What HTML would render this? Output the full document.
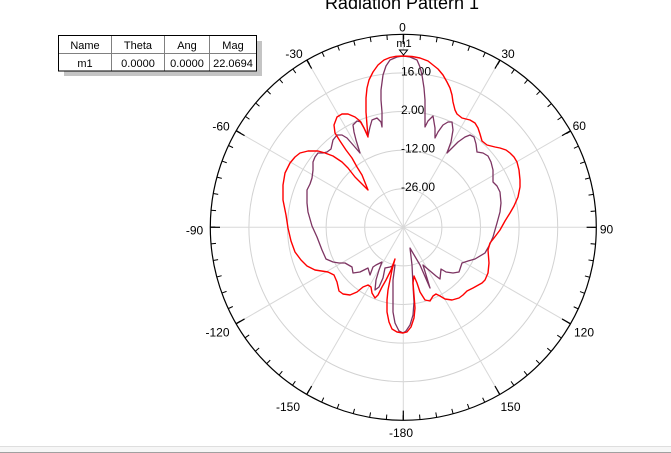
<!DOCTYPE html>
<html><head><meta charset="utf-8"><style>
html,body{margin:0;padding:0;background:#fff;}
svg{display:block;}
text{font-family:"Liberation Sans",Arial,sans-serif;}
</style></head><body>
<svg width="671" height="453" viewBox="0 0 671 453" xmlns="http://www.w3.org/2000/svg">
<rect width="671" height="453" fill="#fff"/>
<!-- title -->
<text x="402" y="9" font-size="18" text-anchor="middle" fill="#000">Radiation Pattern 1</text>

<!-- grid circles -->
<g fill="none" stroke="#d2d2d2" stroke-width="1">
<circle cx="403.3" cy="227.3" r="38.6"/>
<circle cx="403.3" cy="227.3" r="77.2"/>
<circle cx="403.3" cy="227.3" r="115.8"/>
<circle cx="403.3" cy="227.3" r="154.4"/>
</g>
<!-- radial lines -->
<g stroke="#d8d8d8" stroke-width="1">
<line x1="403.3" y1="227.3" x2="403.3" y2="34.3"/>
<line x1="403.3" y1="227.3" x2="403.3" y2="34.3" transform="rotate(30 403.3 227.3)"/>
<line x1="403.3" y1="227.3" x2="403.3" y2="34.3" transform="rotate(60 403.3 227.3)"/>
<line x1="403.3" y1="227.3" x2="403.3" y2="34.3" transform="rotate(90 403.3 227.3)"/>
<line x1="403.3" y1="227.3" x2="403.3" y2="34.3" transform="rotate(120 403.3 227.3)"/>
<line x1="403.3" y1="227.3" x2="403.3" y2="34.3" transform="rotate(150 403.3 227.3)"/>
<line x1="403.3" y1="227.3" x2="403.3" y2="34.3" transform="rotate(180 403.3 227.3)"/>
<line x1="403.3" y1="227.3" x2="403.3" y2="34.3" transform="rotate(210 403.3 227.3)"/>
<line x1="403.3" y1="227.3" x2="403.3" y2="34.3" transform="rotate(240 403.3 227.3)"/>
<line x1="403.3" y1="227.3" x2="403.3" y2="34.3" transform="rotate(270 403.3 227.3)"/>
<line x1="403.3" y1="227.3" x2="403.3" y2="34.3" transform="rotate(300 403.3 227.3)"/>
<line x1="403.3" y1="227.3" x2="403.3" y2="34.3" transform="rotate(330 403.3 227.3)"/>
</g>

<!-- outer circle -->
<circle cx="403.3" cy="227.3" r="193" fill="none" stroke="#000" stroke-width="1.2"/>
<!-- minor ticks every 5 deg -->
<circle cx="403.3" cy="227.3" r="190.5" fill="none" stroke="#000" stroke-width="5" stroke-dasharray="1 15.6248" stroke-dashoffset="0.5"/>
<!-- major ticks -->
<g stroke="#000" stroke-width="1.2">
<line x1="403.3" y1="34.3" x2="403.3" y2="44" />
<line x1="403.3" y1="34.3" x2="403.3" y2="44" transform="rotate(30 403.3 227.3)"/>
<line x1="403.3" y1="34.3" x2="403.3" y2="44" transform="rotate(60 403.3 227.3)"/>
<line x1="403.3" y1="34.3" x2="403.3" y2="44" transform="rotate(90 403.3 227.3)"/>
<line x1="403.3" y1="34.3" x2="403.3" y2="44" transform="rotate(120 403.3 227.3)"/>
<line x1="403.3" y1="34.3" x2="403.3" y2="44" transform="rotate(150 403.3 227.3)"/>
<line x1="403.3" y1="34.3" x2="403.3" y2="44" transform="rotate(180 403.3 227.3)"/>
<line x1="403.3" y1="34.3" x2="403.3" y2="44" transform="rotate(210 403.3 227.3)"/>
<line x1="403.3" y1="34.3" x2="403.3" y2="44" transform="rotate(240 403.3 227.3)"/>
<line x1="403.3" y1="34.3" x2="403.3" y2="44" transform="rotate(270 403.3 227.3)"/>
<line x1="403.3" y1="34.3" x2="403.3" y2="44" transform="rotate(300 403.3 227.3)"/>
<line x1="403.3" y1="34.3" x2="403.3" y2="44" transform="rotate(330 403.3 227.3)"/>
</g>

<!-- angle labels -->
<g font-size="12" fill="#000" text-anchor="middle">
<text x="402.5" y="31.5">0</text>
<text x="508" y="57.8">30</text>
<text x="579.3" y="130.2">60</text>
<text x="606.5" y="233.5">90</text>
<text x="584" y="336.5">120</text>
<text x="510.5" y="411.2">150</text>
<text x="401" y="437.2">-180</text>
<text x="288" y="411.2">-150</text>
<text x="217.5" y="336.5">-120</text>
<text x="194.5" y="234.5">-90</text>
<text x="221" y="130.5">-60</text>
<text x="294" y="57.8">-30</text>
</g>

<!-- ring labels -->
<g font-size="12" fill="#000">
<text x="401" y="75.4">16.00</text>
<text x="401" y="114">2.00</text>
<text x="401" y="152.6">-12.00</text>
<text x="401" y="191.2">-26.00</text>
</g>

<!-- purple trace -->
<path fill="none" stroke="#7d3462" stroke-width="1.3" stroke-linejoin="round" d="M403,56 L410,57 L417,60 L420,67 L422,75 L424,88 L425,100 L425,115 L425,127 L428,121 L433,116 L435,128 L435,138 L438,132 L443,125 L448,122 L452,122 L453,130 L451,142 L447,153 L452,148 L458,142 L465,137 L470,135 L474,137 L476,144 L477,152 L483,153 L488,156 L491,162 L493,170 L493,182 L497,186 L500,192 L501,203 L500,212 L497,223 L493,237 L489,246 L485,253 L475,259 L468,261 L462,263 L459,272 L453,273 L446,272 L441,269 L440,279 L436,276 L423,265 L430,288 L420,265 L410,248 L412,265 L413,285 L414,302 L413,315 L410,325 L406,331 L403,333 L399,331 L395,323 L393,312 L393,295 L393,280 L395,265 L390,267 L385,268 L383,278 L379,287 L375,290 L376,280 L379,270 L382,262 L376,265 L373,267 L370,275 L368,268 L360,272 L353,273 L352,267 L345,263 L339,263 L333,262 L326,259 L322,250 L317,237 L312,226 L308,212 L307,203 L307,190 L310,184 L312,178 L313,170 L313,162 L315,157 L318,153 L323,153 L327,152 L331,149 L333,140 L337,135 L342,135 L347,138 L354,146 L360,153 L356,140 L354,132 L353,125 L357,121 L361,122 L364,128 L368,136 L370,127 L372,120 L377,118 L381,122 L382,127 L382,112 L381,100 L381,90 L383,75 L386,66 L390,60 L397,57 Z"/>

<!-- red trace -->
<path fill="none" stroke="#ff0000" stroke-width="1.4" stroke-linejoin="round" d="M403,56 L412,56.5 L420,58 L428,61 L433,65 L438,69 L443,75 L447,82 L450,88 L452,95 L453,102 L455,110 L457,114 L462,118 L470,120 L475,123 L478,128 L480,134 L482,141 L487,145 L495,147 L500,148 L506,150 L510,153 L514,157 L517,162 L519,170 L520,180 L520,187 L518,197 L514,206 L510,213 L505,221 L500,230 L494,238 L490,243 L488,250 L489,263 L488,273 L485,280 L482,283 L473,288 L467,291 L463,295 L459,298 L452,300 L445,299 L440,296 L436,294 L433,296 L430,301 L425,300 L420,292 L417,283 L414,276 L413,283 L414,295 L415,308 L414,318 L411,327 L407,332 L403,333 L397,332 L392,329 L389,322 L387,312 L387,300 L388,290 L390,280 L392,270 L395,259 L391,270 L386,280 L382,287 L378,295 L375,298 L372,293 L371,287 L368,285 L363,287 L357,292 L350,295 L343,294 L339,291 L337,282 L334,275 L328,272 L315,270 L307,266 L301,260 L295,252 L291,241 L288,228 L286,215 L283,200 L283,185 L285,173 L290,163 L295,157 L300,153 L308,151 L318,151 L325,153 L333,156 L342,162 L348,168 L355,177 L361,183 L368,190 L362,175 L357,167 L352,158 L346,150 L340,141 L335,133 L334,125 L337,117 L342,114 L348,114 L355,117 L360,121 L364,128 L368,137 L367,125 L366,112 L366,98 L367,88 L369,80 L373,72 L378,65 L384,60 L390,57.5 L396,56.3 Z"/>

<!-- marker m1 -->
<text x="404" y="47" font-size="11" text-anchor="middle" fill="#000">m1</text>
<path d="M399.5,50 L407.5,50 L403.5,55 Z" fill="#fff" stroke="#000" stroke-width="1"/>

<!-- marker table -->
<rect x="64" y="41" width="198" height="35" fill="#c4c4c4"/>
<rect x="58.5" y="35.5" width="198" height="35.5" fill="#fff" stroke="#000" stroke-width="1"/>
<g stroke="#808080" stroke-width="1">
<line x1="59" y1="53.5" x2="256" y2="53.5"/>
<line x1="111.5" y1="36" x2="111.5" y2="70.5"/>
<line x1="164.5" y1="36" x2="164.5" y2="70.5"/>
<line x1="209.5" y1="36" x2="209.5" y2="70.5"/>
</g>
<g font-size="11" fill="#000" text-anchor="middle">
<text x="85" y="49">Name</text>
<text x="138" y="49">Theta</text>
<text x="187" y="49">Ang</text>
<text x="233" y="49">Mag</text>
<text x="85" y="67">m1</text>
<text x="138" y="67">0.0000</text>
<text x="187" y="67">0.0000</text>
<text x="233" y="67">22.0694</text>
</g>

<!-- bottom strip -->
<rect x="0" y="446" width="671" height="1" fill="#dedede"/>
<rect x="0" y="447" width="671" height="5" fill="#f6f6f6"/>
<rect x="0" y="452" width="671" height="1" fill="#a0a0a0"/>
</svg>
</body></html>
